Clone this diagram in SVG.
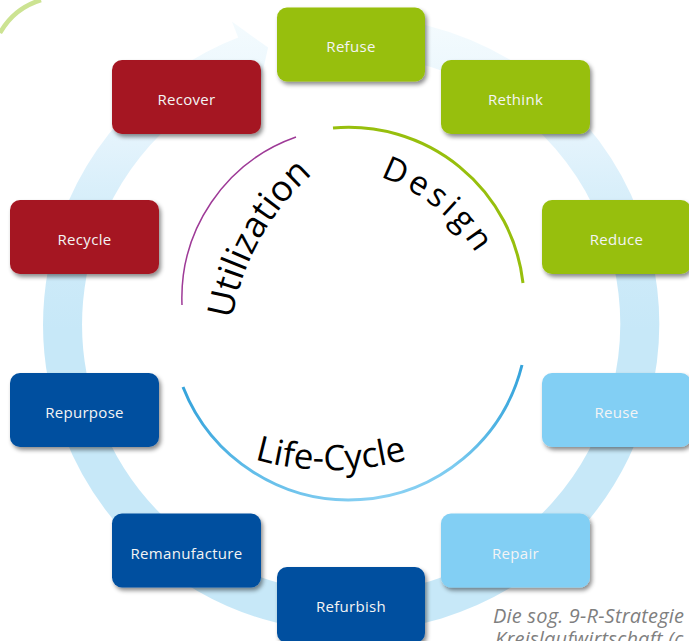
<svg xmlns="http://www.w3.org/2000/svg" width="689" height="641" viewBox="0 0 689 641">
<defs>
<filter id="sh" x="-10%" y="-10%" width="125%" height="135%">
<feDropShadow dx="2" dy="3" stdDeviation="2" flood-color="#000" flood-opacity="0.45"/>
</filter>
<linearGradient id="ringG" gradientUnits="userSpaceOnUse" x1="0" y1="20" x2="0" y2="330">
<stop offset="0" stop-color="#f4fbfe"/>
<stop offset="0.4" stop-color="#e3f3fc"/>
<stop offset="0.65" stop-color="#d2ecf9"/>
<stop offset="1" stop-color="#c7e8f8"/>
</linearGradient>
<linearGradient id="blueG" gradientUnits="userSpaceOnUse" x1="183" y1="0" x2="522" y2="0">
<stop offset="0" stop-color="#35a3db"/>
<stop offset="0.2" stop-color="#62bde9"/>
<stop offset="0.58" stop-color="#8bd1f3"/>
<stop offset="0.8" stop-color="#7ccbf0"/>
<stop offset="0.92" stop-color="#4fb3e3"/>
<stop offset="1" stop-color="#35a3db"/>
</linearGradient>
<path id="pUtil" d="M 232 319 A 249 249 0 0 1 322 166"/>
<path id="pDesign" d="M 380 177 A 190 190 0 0 1 478 256"/>
<path id="pLife" d="M 253 459 A 280 280 0 0 0 409 459"/>
<style>
.box{filter:url(#sh)}
.lbl{font-family:"Open Sans","Noto Sans","DejaVu Sans",sans-serif;font-size:15px;fill:#f4f4f4;text-anchor:middle;letter-spacing:0.3px}
.green{fill:#97bf0d}
.red{fill:#a51922}
.dblue{fill:#00509f}
.lblue{fill:#82cff4}
.phase{font-family:"Open Sans","Noto Sans","DejaVu Sans",sans-serif;fill:#000}
.note{font-family:"Open Sans","Noto Sans","DejaVu Sans",sans-serif;font-style:italic;font-size:20px;letter-spacing:0.2px;fill:#7f7f7f}
</style>
</defs>
<rect width="689" height="641" fill="#fff"/>
<path d="M 0 33 A 70 70 0 0 1 41 0" fill="none" stroke="#cce392" stroke-width="4.5"/>
<g id="connectors">
<path id="ring" d="M 286.1 42.9 A 288.5 288.5 0 1 1 247.6 54.7" fill="none" stroke="url(#ringG)" stroke-width="39"/>
<polygon id="ringHead" points="231.9,21.6 268.1,47.6 258.6,89.5" fill="url(#ringG)"/>
<path id="arcDesign" d="M 333 128 A 175.5 175.5 0 0 1 523 283" fill="none" stroke="#97bf0d" stroke-width="3"/>
<path id="arcUtil" d="M 182 305 A 171 171 0 0 1 296 137" fill="none" stroke="#9e3a97" stroke-width="1.5"/>
<path id="arcLife" d="M 183 387 A 178.4 178.4 0 0 0 522 365" fill="none" stroke="url(#blueG)" stroke-width="3"/>
</g>
<g id="phaseLabels">
<text class="phase" font-size="36"><textPath href="#pUtil" startOffset="0">Utilization</textPath></text>
<text class="phase" font-size="33" letter-spacing="4"><textPath href="#pDesign" startOffset="0">Design</textPath></text>
<text class="phase" font-size="35" text-anchor="middle"><textPath href="#pLife" startOffset="50%">Life-Cycle</textPath></text>
</g>
<g id="n-refuse"><rect class="box green" x="277" y="7.5" width="148" height="74" rx="10"/><text class="lbl" x="351" y="51.5">Refuse</text></g>
<g id="n-rethink"><rect class="box green" x="441" y="60" width="149" height="74" rx="10"/><text class="lbl" x="515.5" y="105">Rethink</text></g>
<g id="n-reduce"><rect class="box green" x="542" y="200" width="149" height="74" rx="10"/><text class="lbl" x="616.5" y="245">Reduce</text></g>
<g id="n-reuse"><rect class="box lblue" x="542" y="373" width="149" height="74" rx="10"/><text class="lbl" x="616.5" y="418">Reuse</text></g>
<g id="n-repair"><rect class="box lblue" x="441" y="513.5" width="149" height="74" rx="10"/><text class="lbl" x="515.5" y="558.5">Repair</text></g>
<g id="n-refurbish"><rect class="box dblue" x="277" y="567" width="148" height="76" rx="10"/><text class="lbl" x="351" y="612">Refurbish</text></g>
<g id="n-remanufacture"><rect class="box dblue" x="112" y="513.5" width="149" height="74" rx="10"/><text class="lbl" x="186.5" y="558.5">Remanufacture</text></g>
<g id="n-repurpose"><rect class="box dblue" x="10" y="373" width="149" height="74" rx="10"/><text class="lbl" x="84.5" y="418">Repurpose</text></g>
<g id="n-recycle"><rect class="box red" x="10" y="200" width="149" height="74" rx="10"/><text class="lbl" x="84.5" y="245">Recycle</text></g>
<g id="n-recover"><rect class="box red" x="112" y="60" width="149" height="74" rx="10"/><text class="lbl" x="186.5" y="105">Recover</text></g>
<g id="caption">
<text class="note" x="493" y="623">Die sog. 9-R-Strategie</text>
<text class="note" x="495" y="646">Kreislaufwirtschaft (c</text>
</g>
</svg>
